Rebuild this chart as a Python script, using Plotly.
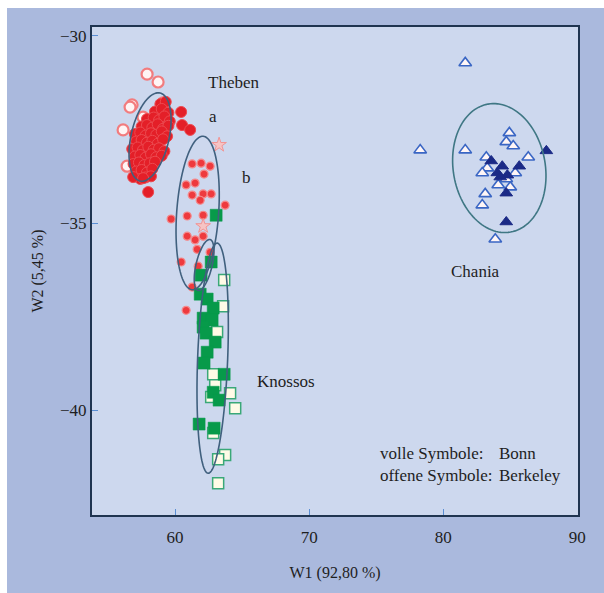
import numpy as np
import plotly.graph_objects as go

# ---------------- data ----------------
# Theben a (Bonn, filled circles)
theben_a_bonn_x = [58.9, 59.3, 58.5, 59.0, 59.5, 57.9, 58.4, 58.8, 59.2, 59.6, 57.5, 57.9, 58.3, 58.7,
                   59.1, 59.5, 57.0, 57.4, 57.8, 58.2, 58.6, 59.0, 59.4, 57.1, 57.5, 57.9, 58.3, 58.7,
                   59.1, 56.8, 57.2, 57.6, 58.0, 58.4, 58.8, 59.2, 57.0, 57.4, 57.8, 58.2, 58.6, 59.0,
                   56.9, 57.3, 57.7, 58.1, 58.5, 57.1, 57.5, 57.9, 58.3, 57.4, 57.8, 58.2,
                   60.45, 60.52, 61.12, 57.99, 56.87, 57.61]
theben_a_bonn_y = [-31.82, -31.76, -32.02, -31.95, -32.05, -32.22, -32.18, -32.25, -32.15, -32.28, -32.42,
                   -32.38, -32.45, -32.36, -32.48, -32.40, -32.62, -32.58, -32.66, -32.60, -32.64, -32.55,
                   -32.68, -32.82, -32.78, -32.85, -32.80, -32.88, -32.76, -33.02, -32.98, -33.05, -32.96,
                   -33.04, -33.00, -33.08, -33.22, -33.18, -33.25, -33.16, -33.24, -33.20, -33.42, -33.38,
                   -33.45, -33.40, -33.36, -33.62, -33.58, -33.65, -33.55, -33.82, -33.78, -33.75,
                   -32.03, -32.38, -32.51, -34.17, -33.77, -33.80]
# Theben a (Berkeley, open circles)
theben_a_berk_x = [57.91, 58.73, 56.79, 56.12, 56.42, 59.10, 57.61, 56.64]
theben_a_berk_y = [-31.02, -31.23, -31.84, -32.51, -33.48, -31.79, -32.17, -31.90]
# Theben b (Bonn)
theben_b_bonn_x = [61.27, 61.94, 62.61, 62.16, 60.82, 61.49, 61.27, 62.09, 62.69, 61.87, 63.73, 59.70,
                   60.90, 62.09, 60.90, 61.49, 62.09, 61.64, 62.61, 60.45, 61.72, 61.27, 60.82]
theben_b_bonn_y = [-33.42, -33.40, -33.48, -33.69, -33.98, -33.93, -34.25, -34.22, -34.22, -34.39, -34.52,
                   -34.89, -34.81, -34.79, -35.35, -35.45, -35.35, -35.70, -35.78, -36.04, -36.15, -36.71,
                   -37.33]
# Theben b (Berkeley)
theben_b_berk_x = [63.28, 62.09]
theben_b_berk_y = [-32.91, -35.08]
# Knossos (Bonn, filled squares)
knossos_bonn_x = [63.06, 62.69, 61.94, 61.87, 62.39, 62.84, 62.09, 62.76, 62.09, 62.31, 62.99, 62.39,
                  62.16, 63.66, 62.84, 63.28, 61.79, 62.91]
knossos_bonn_y = [-34.79, -36.04, -36.39, -36.90, -37.03, -37.27, -37.54, -37.59, -37.78, -37.94, -38.18,
                  -38.45, -38.74, -39.04, -39.52, -39.73, -40.37, -40.48]
# Knossos (Berkeley, open squares)
knossos_berk_x = [63.66, 63.58, 63.13, 62.84, 62.99, 64.10, 64.48, 62.84, 63.73, 63.21, 63.21, 62.69]
knossos_berk_y = [-36.52, -37.22, -37.91, -39.04, -39.33, -39.55, -39.95, -40.61, -41.20, -41.31, -41.95,
                  -39.65]
# Chania (Bonn, filled triangles)
chania_bonn_x = [87.69, 83.58, 84.40, 85.67, 84.03, 84.78, 84.25, 84.70, 84.70]
chania_bonn_y = [-33.07, -33.34, -33.48, -33.48, -33.66, -33.72, -33.77, -34.20, -34.97]
# Chania (Berkeley, open triangles)
chania_berk_x = [81.64, 78.28, 81.64, 84.93, 84.70, 85.22, 86.34, 83.21, 83.28, 82.91, 84.10, 85.00,
                 83.13, 82.91, 83.88, 85.37, 84.70]
chania_berk_y = [-30.72, -33.05, -33.05, -32.59, -32.83, -32.94, -33.24, -33.24, -33.53, -33.66, -33.98,
                 -34.04, -34.22, -34.52, -35.43, -33.66, -33.82]

# group ellipses: center, semi-axis vector u, semi-axis vector v (data units)
ellipse_names = ["Theben a", "Theben b", "Knossos a", "Knossos", "Chania"]
ellipse_cx = [58.13, 61.68, 62.16, 62.80, 84.18]
ellipse_cy = [-32.70, -34.73, -36.12, -38.61, -33.53]
ellipse_ux = [0.746, 0.41, 0.45, 0.336, -0.84]
ellipse_uy = [1.176, 2.05, 0.68, 3.075, 1.71]
ellipse_vx = [1.38, 1.56, 0.58, 1.12, 3.38]
ellipse_vy = [-0.112, -0.04, -0.05, -0.016, 0.214]
ellipse_colors = ["#40607e", "#40607e", "#40607e", "#40607e", "#3f7784"]

x_ticks = [60, 70, 80, 90]
y_ticks = [-30, -35, -40]

# ---------------- figure ----------------
fig = go.Figure()

def add(x, y, symbol, size, color, line_color, line_width, opacity=1.0):
    fig.add_trace(go.Scatter(x=x, y=y, mode="markers", hoverinfo="skip", showlegend=False,
                             marker=dict(symbol=symbol, size=size, color=color, opacity=opacity,
                                         line=dict(color=line_color, width=line_width))))

add(theben_b_bonn_x, theben_b_bonn_y, "circle", 8, "#ee3a3e", "#f48a8c", 1.2)
add(theben_b_berk_x, theben_b_berk_y, "star", 11, "#f6c4c4", "#f19494", 1)
add(theben_a_berk_x, theben_a_berk_y, "circle", 11, "#fff4f4", "#f27c7e", 2.2)
add(theben_a_bonn_x, theben_a_bonn_y, "circle", 11, "#e41f28", "#ec4a50", 1)
add(knossos_berk_x, knossos_berk_y, "square", 11, "#fffbe6", "#3aa878", 1.5)
add(knossos_bonn_x, knossos_bonn_y, "square", 12, "#079a4a", "#079a4a", 0.5)
add(chania_berk_x, chania_berk_y, "triangle-up", 11, "#fff6f6", "#3a66c4", 1.6)
add(chania_bonn_x, chania_bonn_y, "triangle-up", 11, "#1b2a86", "#1b2a86", 1)

t = np.linspace(0, 2 * np.pi, 121)
for cx, cy, ux, uy, vx, vy, col in zip(ellipse_cx, ellipse_cy, ellipse_ux, ellipse_uy,
                                      ellipse_vx, ellipse_vy, ellipse_colors):
    ex = cx + ux * np.cos(t) + vx * np.sin(t)
    ey = cy + uy * np.cos(t) + vy * np.sin(t)
    path = "M " + " L ".join(f"{a:.4f},{b:.4f}" for a, b in zip(ex, ey)) + " Z"
    fig.add_shape(type="path", path=path, xref="x", yref="y",
                  line=dict(color=col, width=1.6), layer="above")

txt = dict(family="Liberation Serif", size=17, color="#1e1e1e")
labels = [("Theben", 64.33, -31.23, "center"), ("a", 62.84, -32.14, "center"),
          ("b", 65.30, -33.77, "center"), ("Chania", 82.39, -36.28, "center"),
          ("Knossos", 68.28, -39.22, "center"),
          ("volle Symbole:", 75.15, -41.15, "left"), ("offene Symbole:", 75.15, -41.74, "left"),
          ("Bonn", 84.03, -41.15, "left"), ("Berkeley", 84.03, -41.74, "left")]
for s, x, y, anc in labels:
    fig.add_annotation(x=x, y=y, text=s, showarrow=False, xanchor=anc, yanchor="middle", font=txt)

# white frame strips at top/left edge of the page
pw, ph = 486.0, 488.0
fig.add_shape(type="rect", xref="paper", yref="paper", x0=-92 / pw, x1=-85 / pw,
              y0=-80 / ph, y1=1 + 28 / ph, fillcolor="white", line_width=0, layer="above")
fig.add_shape(type="rect", xref="paper", yref="paper", x0=-92 / pw, x1=1 + 28 / pw,
              y0=1 + 19 / ph, y1=1 + 28 / ph, fillcolor="white", line_width=0, layer="above")

axis_common = dict(showgrid=False, zeroline=False, showline=True, mirror=True,
                   linecolor="#1f3450", linewidth=2, ticks="inside", ticklen=6, tickwidth=1.2,
                   tickcolor="#5b8fd4", tickfont=dict(family="Liberation Serif", size=17, color="#1e1e1e"))
fig.update_xaxes(range=[53.8, 90.05], tickvals=x_ticks, ticklabelstandoff=6, **axis_common,
                 title=dict(text="W1 (92,80 %)", font=dict(family="Liberation Serif", size=16, color="#1e1e1e"),
                            standoff=20))
fig.update_yaxes(range=[-42.8, -29.76], tickvals=y_ticks, **axis_common,
                 title=dict(text="W2 (5,45 %)", font=dict(family="Liberation Serif", size=16, color="#1e1e1e"),
                            standoff=12))

fig.update_layout(width=604, height=593, margin=dict(l=92, r=26, t=27, b=78),
                  paper_bgcolor="#aab9dd", plot_bgcolor="#cdd8ee")

fig.write_html("out.html")
